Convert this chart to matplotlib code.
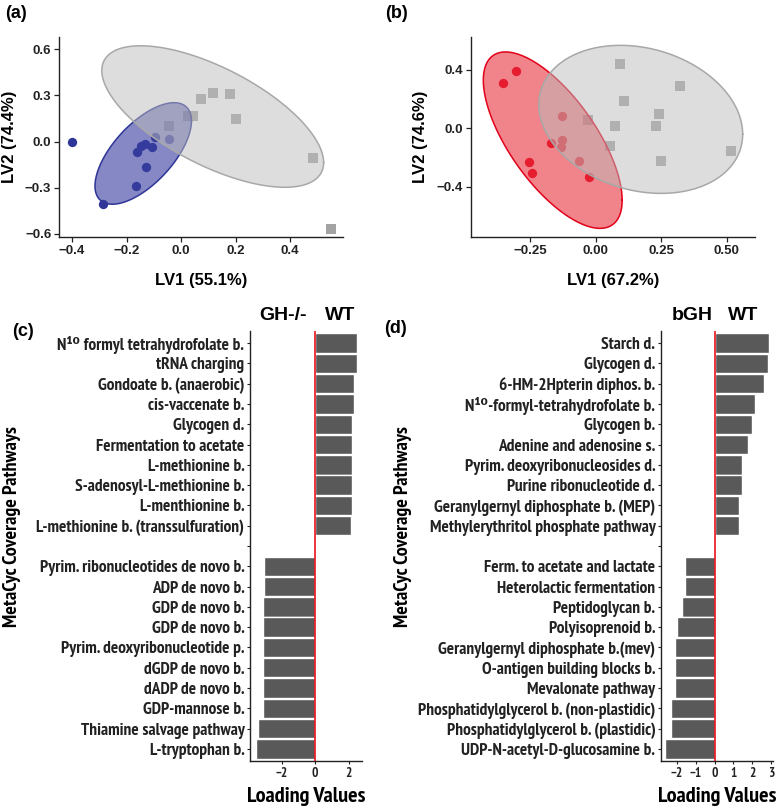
import matplotlib
matplotlib.use('Agg')
import matplotlib.pyplot as plt
import numpy as np
from matplotlib import font_manager as fm
from matplotlib.font_manager import FontProperties

# fonts
plt.rcParams['font.family'] = ['Liberation Sans', 'DejaVu Sans']
plt.rcParams['font.weight'] = 'bold'


def pick_narrow():
    # the bar panels use a narrow bold face; take the first one that is installed
    cands = ['Liberation Sans Narrow', 'Arial Narrow', 'Archivo Narrow', 'PT Sans Narrow',
             'Roboto Condensed', 'Fira Sans Condensed', 'IBM Plex Sans Condensed',
             'Open Sans Condensed', 'Encode Sans Condensed', 'Sofia Sans Condensed',
             'Barlow Semi Condensed', 'Ubuntu Condensed', 'Barlow Condensed']
    fonts = fm.fontManager.ttflist

    def is_bold(f):
        w = f.weight
        return (isinstance(w, int) and w >= 600) or w in ('bold', 'semibold', 'demibold')

    bold_names = {f.name for f in fonts if is_bold(f) and f.style == 'normal'}
    for c in cands:
        if c in bold_names:
            return dict(family=[c, 'DejaVu Sans'])
    for name in ['Noto Sans', 'Open Sans', 'DejaVu Sans']:
        for f in fonts:
            if f.name == name and is_bold(f) and f.stretch in ('condensed', 'semi-condensed', 'narrow'):
                return dict(family=[name, 'DejaVu Sans'], stretch=f.stretch)
    return dict(family=['Liberation Sans', 'DejaVu Sans'])


NARROW = pick_narrow()


def nfont(size):
    return FontProperties(weight='bold', size=size, **NARROW)


# ---- data: panel (a) ----
a_ko_x = [-0.40, -0.285, -0.165, -0.13, -0.163, -0.147, -0.132, -0.108, -0.095, -0.043]
a_ko_y = [0.0, -0.405, -0.29, -0.168, -0.067, -0.03, -0.015, -0.033, 0.028, 0.017]
a_wt_x = [-0.043, 0.025, 0.045, 0.073, 0.116, 0.179, 0.20, 0.483, 0.55]
a_wt_y = [0.10, 0.165, 0.165, 0.28, 0.318, 0.312, 0.15, -0.105, -0.565]
# ellipse: centre x, centre y, sd x, sd y, correlation
a_ko_ell = [-0.139, -0.077, 0.177, 0.33, 0.64]
a_wt_ell = [0.116, 0.163, 0.407, 0.46, -0.65]

# ---- data: panel (b) ----
b_bgh_x = [-0.352, -0.303, -0.254, -0.242, -0.172, -0.134, -0.130, -0.127, -0.065, -0.025]
b_bgh_y = [0.309, 0.391, -0.232, -0.307, -0.102, -0.125, -0.082, 0.084, -0.225, -0.332]
b_wt_x = [-0.031, 0.073, 0.054, 0.091, 0.109, 0.242, 0.232, 0.251, 0.320, 0.517]
b_wt_y = [0.061, 0.018, -0.119, 0.439, 0.186, 0.096, 0.020, -0.225, 0.289, -0.155]
b_bgh_ell = [-0.164, -0.080, 0.265, 0.603, -0.68]
b_wt_ell = [0.172, 0.062, 0.389, 0.506, -0.2]

# ---- data: panel (c) ----
c_labels = ['N¹⁰ formyl tetrahydrofolate b.', 'tRNA charging', 'Gondoate b. (anaerobic)',
            'cis-vaccenate b.', 'Glycogen d.', 'Fermentation to acetate', 'L-methionine b.',
            'S-adenosyl-L-methionine b.', 'L-menthionine b.', 'L-methionine b. (transsulfuration)',
            '',
            'Pyrim. ribonucleotides de novo b.', 'ADP de novo b.', 'GDP de novo b.', 'GDP de novo b.',
            'Pyrim. deoxyribonucleotide p.', 'dGDP de novo b.', 'dADP de novo b.', 'GDP-mannose b.',
            'Thiamine salvage pathway', 'L-tryptophan b.']
c_values = [2.49, 2.49, 2.35, 2.33, 2.19, 2.19, 2.19, 2.18, 2.18, 2.17,
            np.nan,
            -3.09, -3.09, -3.10, -3.10, -3.10, -3.11, -3.11, -3.13, -3.44, -3.52]

# ---- data: panel (d) ----
d_labels = ['Starch d.', 'Glycogen d.', '6-HM-2Hpterin diphos. b.', 'N¹⁰-formyl-tetrahydrofolate b.',
            'Glycogen b.', 'Adenine and adenosine s.', 'Pyrim. deoxyribonucleosides d.',
            'Purine ribonucleotide d.', 'Geranylgernyl diphosphate b. (MEP)',
            'Methylerythritol phosphate pathway',
            '',
            'Ferm. to acetate and lactate', 'Heterolactic fermentation', 'Peptidoglycan b.',
            'Polyisoprenoid b.', 'Geranylgernyl diphosphate b.(mev)', 'O-antigen building blocks b.',
            'Mevalonate pathway', 'Phosphatidylglycerol b. (non-plastidic)',
            'Phosphatidylglycerol b. (plastidic)', 'UDP-N-acetyl-D-glucosamine b.']
d_values = [2.89, 2.85, 2.63, 2.15, 1.97, 1.78, 1.44, 1.44, 1.32, 1.30,
            np.nan,
            -1.55, -1.55, -1.71, -1.98, -2.12, -2.12, -2.12, -2.29, -2.29, -2.61]

W, H = 777, 811
fig = plt.figure(figsize=(W / 100, H / 100), dpi=100)
renderer = fig.canvas.get_renderer()


def fit_size(text, target_px, size_max):
    # font size at which the narrow face gives the width seen in the reference
    w, _, _ = renderer.get_text_width_height_descent(text, nfont(10), ismath=False)
    return min(size_max, 10 * target_px / w)


cat_size = 0.5 * (fit_size('L-methionine b. (transsulfuration)', 219, 12.5)
                  + fit_size('Phosphatidylglycerol b. (non-plastidic)', 249, 12.5))
ylab_size = fit_size('MetaCyc Coverage Pathways', 213, 14.5)
xlab_size = fit_size('Loading Values', 121, 16)
tick_size = min(9.5, cat_size * 0.9)


def box(left, top, right, bottom):
    return [left / W, 1 - bottom / H, (right - left) / W, (bottom - top) / H]


def ellipse(ax, p, face, edge, alpha, z):
    t = np.linspace(0, 2 * np.pi, 300)
    cx, cy, sx, sy, rho = p
    ex = cx + sx * np.cos(t)
    ey = cy + sy * (rho * np.cos(t) + np.sqrt(1 - rho ** 2) * np.sin(t))
    ax.fill(ex, ey, facecolor=face, alpha=alpha, edgecolor='none', zorder=z)
    ax.plot(ex, ey, color=edge, lw=1.1, zorder=z + 0.1)


def style_scatter(ax):
    for s in ['top', 'right']:
        ax.spines[s].set_visible(False)
    for s in ['left', 'bottom']:
        ax.spines[s].set_linewidth(1.0)
        ax.spines[s].set_color('#222222')
    ax.tick_params(direction='out', length=3.5, width=0.9, labelsize=9.5, colors='#222222', pad=2)
    for lab in ax.get_xticklabels() + ax.get_yticklabels():
        lab.set_fontweight('bold')


# ---- (a) ----
ax1 = fig.add_axes(box(59, 37, 343, 237))
ax1.scatter(a_ko_x, a_ko_y, s=45, color='#2e3596', zorder=2, linewidths=0)
ax1.scatter(a_wt_x, a_wt_y, s=42, marker='s', color='#a3a3a3', zorder=2, linewidths=0)
ellipse(ax1, a_ko_ell, '#3a3fa0', '#2e3596', 0.62, 3)
ellipse(ax1, a_wt_ell, '#bdbdbd', '#a8a8a8', 0.5, 4)
ax1.set_xlim(-0.448, 0.594)
ax1.set_ylim(-0.62, 0.68)
ax1.set_xticks([-0.4, -0.2, 0.0, 0.2, 0.4])
ax1.set_xticklabels(['−0.4', '−0.2', '0.0', '0.2', '0.4'])
ax1.set_yticks([-0.6, -0.3, 0.0, 0.3, 0.6])
ax1.set_yticklabels(['−0.6', '−0.3', '0.0', '0.3', '0.6'])
style_scatter(ax1)
ax1.set_xlabel('LV1 (55.1%)', fontsize=12, fontweight='bold')
ax1.set_ylabel('LV2 (74.4%)', fontsize=12, fontweight='bold')
ax1.xaxis.set_label_coords(0.5, -0.18)
ax1.yaxis.set_label_coords((17 - 59) / 284, 0.5)

# ---- (b) ----
ax2 = fig.add_axes(box(471, 37, 755, 237))
ax2.scatter(b_bgh_x, b_bgh_y, s=45, color='#e2001a', zorder=2, linewidths=0)
ax2.scatter(b_wt_x, b_wt_y, s=42, marker='s', color='#a3a3a3', zorder=2, linewidths=0)
ellipse(ax2, b_bgh_ell, '#e8313d', '#e2001a', 0.6, 3)
ellipse(ax2, b_wt_ell, '#bdbdbd', '#a8a8a8', 0.5, 4)
ax2.set_xlim(-0.476, 0.608)
ax2.set_ylim(-0.742, 0.625)
ax2.set_xticks([-0.25, 0.0, 0.25, 0.5])
ax2.set_xticklabels(['−0.25', '0.00', '0.25', '0.50'])
ax2.set_yticks([-0.4, 0.0, 0.4])
ax2.set_yticklabels(['−0.4', '0.0', '0.4'])
style_scatter(ax2)
ax2.set_xlabel('LV1 (67.2%)', fontsize=12, fontweight='bold')
ax2.set_ylabel('LV2 (74.6%)', fontsize=12, fontweight='bold')
ax2.xaxis.set_label_coords(0.5, -0.18)
ax2.yaxis.set_label_coords((428 - 471) / 284, 0.5)


def bars(ax, labels, values, xlim, xticks):
    pos = np.arange(len(labels))
    vals = np.array(values, dtype=float)
    keep = ~np.isnan(vals)
    ax.barh(pos[keep], vals[keep], height=0.96, color='#595959', edgecolor='white', linewidth=1.0, zorder=2)
    ax.axvline(0, color='#e8141c', lw=1.2, zorder=3)
    ax.set_ylim(len(labels) - 0.4, -0.6)
    ax.set_xlim(*xlim)
    ax.set_yticks(pos)
    ax.set_yticklabels(labels, fontproperties=nfont(cat_size), color='#1a1a1a')
    ax.set_xticks(xticks)
    ax.set_xticklabels([('−' + str(-v)) if v < 0 else str(v) for v in xticks],
                       fontproperties=nfont(tick_size), color='#1a1a1a')
    for s in ['top', 'right']:
        ax.spines[s].set_visible(False)
    for s in ['left', 'bottom']:
        ax.spines[s].set_linewidth(1.0)
        ax.spines[s].set_color('#222222')
    ax.tick_params(direction='out', length=2.5, width=0.8, pad=1.5, colors='#222222')
    ax.set_xlabel('Loading Values', fontproperties=nfont(xlab_size))
    ax.xaxis.set_label_coords(0.5, -(787 - 761) / 430)
    ax.set_ylabel('MetaCyc Coverage Pathways', fontproperties=nfont(ylab_size))


# ---- (c) ----
ax3 = fig.add_axes(box(250, 331, 362, 761))
bars(ax3, c_labels, c_values, (-3.9, 2.8), [-2, 0, 2])
ax3.yaxis.set_label_coords((21 - 250) / 112, (761 - 527) / 430)

# ---- (d) ----
ax4 = fig.add_axes(box(661, 331, 773, 761))
bars(ax4, d_labels, d_values, (-2.84, 3.1), [-2, -1, 0, 1, 2, 3])
ax4.yaxis.set_label_coords((412 - 661) / 112, (761 - 527) / 430)

# group headers
fig.text(283 / W, 1 - 315 / H, 'GH-/-', ha='center', va='center', fontsize=14, fontweight='bold')
fig.text(340 / W, 1 - 315 / H, 'WT', ha='center', va='center', fontsize=14, fontweight='bold')
fig.text(692 / W, 1 - 315 / H, 'bGH', ha='center', va='center', fontsize=14, fontweight='bold')
fig.text(743 / W, 1 - 315 / H, 'WT', ha='center', va='center', fontsize=14, fontweight='bold')

# panel letters
for lx, ly, t in [(5, 13, '(a)'), (385, 13, '(b)'), (12, 331, '(c)'), (384, 328, '(d)')]:
    fig.text(lx / W, 1 - ly / H, t, ha='left', va='center', fontsize=13, fontweight='bold')

plt.savefig('out.png', dpi=100)
